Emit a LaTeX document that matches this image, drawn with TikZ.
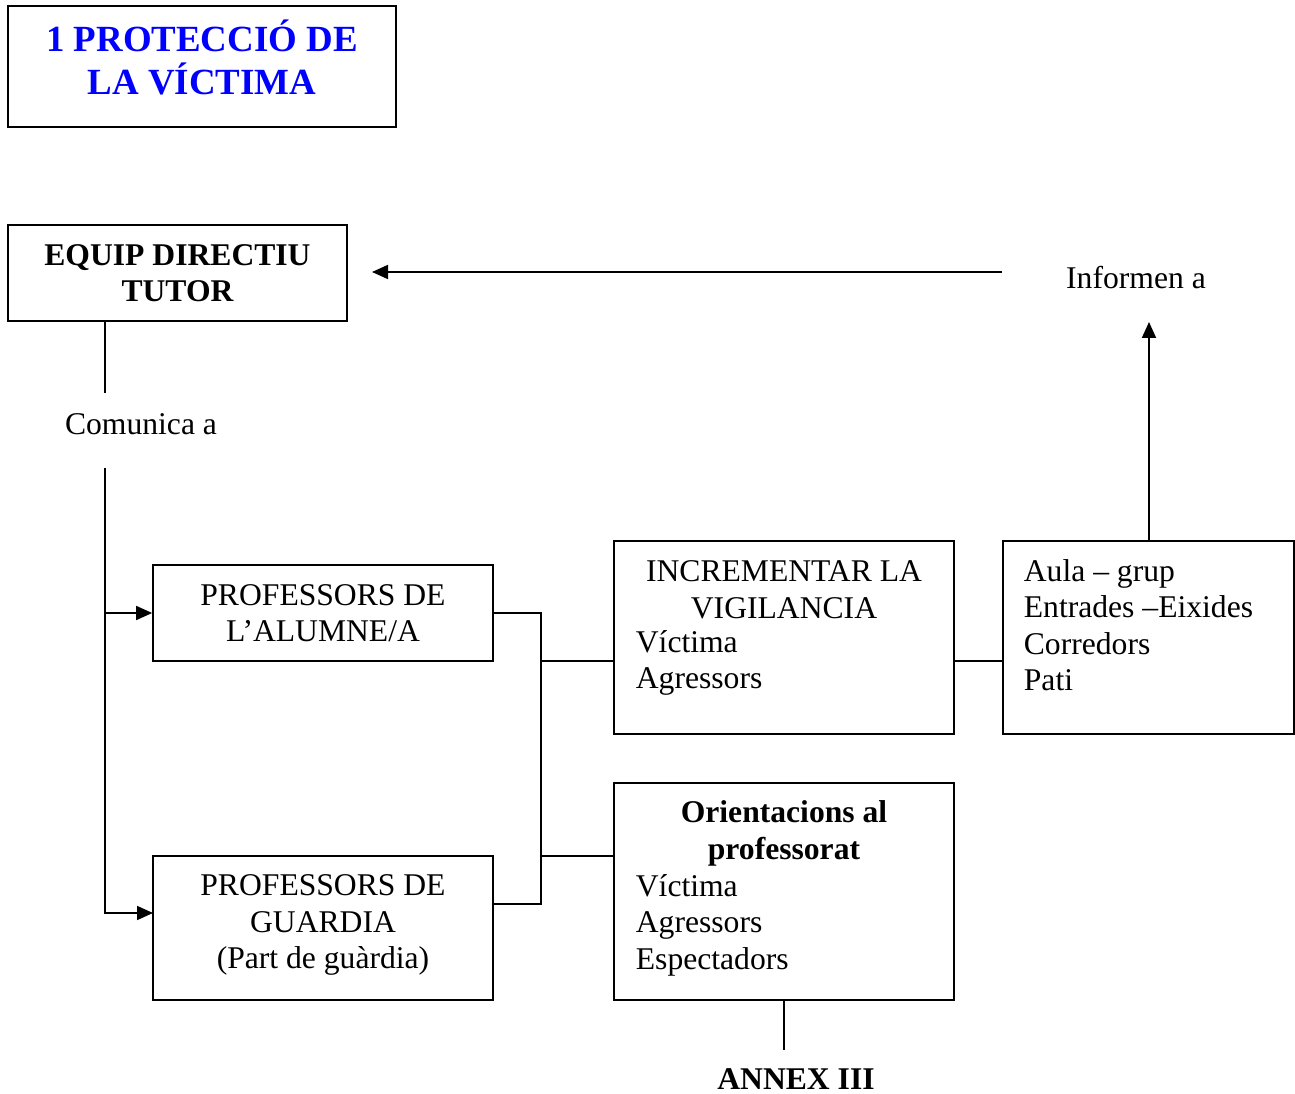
\documentclass[tikz,border=0pt]{standalone}
\usepackage{fontspec}
\setmainfont{Liberation Serif}
\usetikzlibrary{arrows.meta,positioning}

\tikzset{
  box/.style={draw,line width=1pt,inner sep=0pt,align=center,font=\fontsize{18}{20.8}\selectfont},
  txt/.style={inner sep=0pt,font=\fontsize{18}{20.8}\selectfont},
}

\begin{document}
\begin{tikzpicture}[x=0.02cm,y=-0.02cm,line width=1pt,>={Triangle[length=0.32cm,width=0.28cm]}]
  \useasboundingbox (0,0) rectangle (1295,1094);
  % titol
  \node[box,minimum width=7.76cm,minimum height=2.42cm] (titol) at (202,66.5) {};
  \node[txt,align=center,text=blue,font=\fontsize{21}{24.4}\selectfont\bfseries] (titoltxt) at (202,57.5) {1 PROTECCIÓ DE\\LA VÍCTIMA};
  % caixes
  \node[box,minimum width=6.78cm,minimum height=1.92cm,font=\fontsize{18}{20.8}\selectfont\bfseries] (equip) at (177.5,273) {EQUIP DIRECTIU\\TUTOR};
  \node[box,minimum width=6.8cm,minimum height=1.92cm] (prof1) at (323,613) {PROFESSORS DE\\L’ALUMNE/A};
  \node[box,minimum width=6.8cm,minimum height=2.88cm] (prof2) at (323,928) {};
  \node[txt,align=center] (prof2txt) at (323,925) {PROFESSORS DE\\GUARDIA\\(Part de guàrdia)};
  \node[box,minimum width=6.8cm,minimum height=3.86cm] (inc) at (784,637.5) {};
  \node[txt,align=center] (inchead) at (784,589.5) {INCREMENTAR LA\\VIGILANCIA};
  \node[txt,align=left,anchor=west] (inclist) at (635,663) {Víctima\\Agressors};
  \node[box,minimum width=5.82cm,minimum height=3.86cm] (aula) at (1148.5,637.5) {};
  \node[txt,align=left,anchor=west] (aulalist) at (1023,625) {Aula – grup\\Entrades –Eixides\\Corredors\\Pati};
  \node[box,minimum width=6.8cm,minimum height=4.34cm] (orient) at (784,891.5) {};
  \node[txt,align=center,font=\fontsize{18}{20.8}\selectfont\bfseries] (orienthead) at (784,833.5) {Orientacions al\\professorat};
  \node[txt,align=left,anchor=west] (orientlist) at (635,925) {Víctima\\Agressors\\Espectadors};
  % etiquetes
  \node[txt] (comm) at (141,424) {Comunica a};
  \node[txt] (inf) at (1136,278) {Informen a};
  \node[txt,font=\fontsize{18}{20.8}\selectfont\bfseries] (annex) at (796,1079) {ANNEX III};
  % punts
  \coordinate (c1) at (105,393);
  \coordinate (c2) at (105,468);
  \coordinate (c3) at (153,913);
  \coordinate (bt) at (541,613);
  \coordinate (bb) at (541,904);
  \coordinate (up) at (1149,322);
  \coordinate (left) at (372,272);
  \coordinate (an) at (784,1050);
  % connectors
  \draw (equip.south -| c1) -- (c1);
  \draw[->] (c2) |- (prof1.west);
  \draw[->] (c2) |- (c3);
  \draw (prof1.east) -- (bt) -- (bb) -- (prof2.east |- bb);
  \draw (bt |- 0,661) -- (inc.west |- 0,661);
  \draw (bt |- 0,856) -- (orient.west |- 0,856);
  \draw (inc.east |- 0,661) -- (aula.west |- 0,661);
  \draw[->] (aula.north -| up) -- (up);
  \draw[->] (aula.west |- left) -- (left);
  \draw (orient.south) -- (an);
\end{tikzpicture}
\end{document}
